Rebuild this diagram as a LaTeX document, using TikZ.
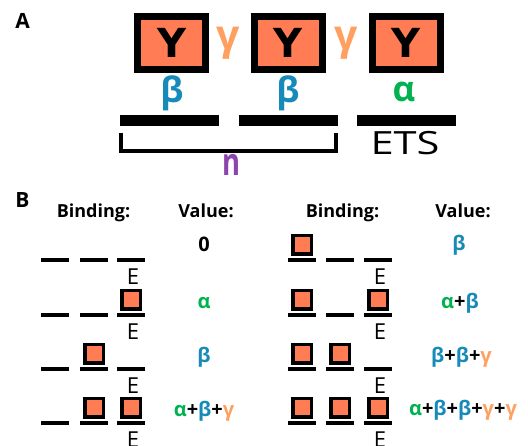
\documentclass[tikz,border=0pt]{standalone}
\usepackage{fontspec}
\setmainfont{Open Sans}
\newfontfamily\yfont{DejaVu Sans}
\usetikzlibrary{calc}

\definecolor{salmon}{RGB}{255,124,84}
\definecolor{gamcol}{RGB}{255,160,96}
\definecolor{betcol}{RGB}{22,138,184}
\definecolor{alfcol}{RGB}{0,178,80}
\definecolor{ncol}{RGB}{142,68,173}

\newcommand{\alf}{\textcolor{alfcol}{α}}
\newcommand{\bet}{\textcolor{betcol}{β}}
\newcommand{\gam}{\textcolor{gamcol}{γ}}

\tikzset{
  bigbox/.style={draw=black, line width=7pt, fill=salmon, minimum width=68pt,
    minimum height=53pt, inner sep=0pt, font=\yfont\bfseries\fontsize{40}{40}\selectfont},
  bigbar/.style={fill=black, minimum width=99pt, minimum height=11pt, inner sep=0pt},
  greekA/.style={inner sep=0pt, font=\bfseries\fontsize{35}{35}\selectfont},
  gapgam/.style={inner sep=0pt, text=gamcol, font=\bfseries\fontsize{41}{41}\selectfont},
  panel/.style={inner sep=0pt, font=\bfseries\fontsize{21}{21}\selectfont},
  header/.style={inner sep=0pt, anchor=base, font=\bfseries\fontsize{18}{18}\selectfont},
  value/.style={inner sep=0pt, anchor=base, font=\bfseries\fontsize{20}{20}\selectfont},
  slot/.style={fill=black, minimum width=28pt, minimum height=4pt, inner sep=0pt},
  smallbox/.style={draw=black, line width=3.5pt, fill=salmon, minimum size=18.5pt, inner sep=0pt},
  elabel/.style={inner sep=0pt, anchor=base, font=\fontsize{22}{22}\selectfont},
  bracket/.style={line width=4pt}
}

\begin{document}
\begin{tikzpicture}[x=1pt, y=-1pt]
\useasboundingbox (0,0) rectangle (528,445);
\clip (0,0) rectangle (528,445);

% ---------- A: the promoter with its three sites ----------
\node[panel] (labA) at (22.5,20.5) {A};

\node[bigbox] (site1) at (171.5,43) {Y};
\node[bigbox] (site2) at (288,43) {Y};
\node[bigbox] (site3) at (406,43) {Y};

\node[gapgam] (g1) at (228.5,43) {γ};
\node[gapgam] (g2) at (346,43) {γ};

\node[greekA, text=betcol] (b1) at (172,93) {β};
\node[greekA, text=betcol] (b2) at (288,93) {β};
\node[greekA, text=alfcol] (a3) at (404,92) {α};

\node[bigbar] (bar1) at (169,120.5) {};
\node[bigbar] (bar2) at (288,120.5) {};
\node[bigbar] (bar3) at (406.5,120.5) {};

\draw[bracket] ($(bar1.south west)+(2,7)$) -- ++(0,18) -| ($(bar2.south east)+(-2,7)$);
\node[inner sep=0pt, text=ncol, font=\bfseries\fontsize{38}{38}\selectfont] (n) at (231.5,164.5) {\scalebox{0.72}[1]{n}};
\node[inner sep=0pt, font=\fontsize{32}{32}\selectfont] (ets) at (405,143.5) {\scalebox{1.3}[1]{ETS}};

% ---------- B: occupancy states and their values ----------
\node[panel] (labB) at (22.5,199.5) {B};

\node[header] (hb1) at (93.5,217) {Binding:};
\node[header] (hv1) at (206,217) {Value:};
\node[header] (hb2) at (342.5,217) {Binding:};
\node[header] (hv2) at (463,217) {Value:};

% slots: left columns 55, 94, 131; right columns 302, 340, 378
\foreach \r/\y in {1/260, 2/315, 3/369, 4/423} {
  \node[slot] (L\r1) at (55,\y) {};
  \node[slot] (L\r2) at (94,\y) {};
  \node[slot] (L\r3) at (131,\y) {};
  \node[elabel] (LE\r) at (133,\y+24) {E};
  \node[slot] (R\r1) at (302,\y) {};
  \node[slot] (R\r2) at (340,\y) {};
  \node[slot] (R\r3) at (378,\y) {};
  \node[elabel] (RE\r) at (380,\y+24) {E};
}

% bound factors sitting on the slots
\node[smallbox] (kL23) at ($(L23)+(0,-15.5)$) {};
\node[smallbox] (kL32) at ($(L32)+(0,-15.5)$) {};
\node[smallbox] (kL42) at ($(L42)+(0,-15.5)$) {};
\node[smallbox] (kL43) at ($(L43)+(0,-15.5)$) {};

\node[smallbox] (kR11) at ($(R11)+(0,-15.5)$) {};
\node[smallbox] (kR21) at ($(R21)+(0,-15.5)$) {};
\node[smallbox] (kR23) at ($(R23)+(0,-15.5)$) {};
\node[smallbox] (kR31) at ($(R31)+(0,-15.5)$) {};
\node[smallbox] (kR32) at ($(R32)+(0,-15.5)$) {};
\node[smallbox] (kR41) at ($(R41)+(0,-15.5)$) {};
\node[smallbox] (kR42) at ($(R42)+(0,-15.5)$) {};
\node[smallbox] (kR43) at ($(R43)+(0,-15.5)$) {};

% values
\node[value] (vL1) at (204,251) {0};
\node[value] (vL2) at (204,308) {\alf};
\node[value] (vL3) at (204,362) {\bet};
\node[value] (vL4) at (204,416) {\alf+\bet+\gam};

\node[value] (vR1) at (459,250) {\bet};
\node[value] (vR2) at (460,308) {\alf+\bet};
\node[value] (vR3) at (461.5,362) {\bet+\bet+\gam};
\node[value] (vR4) at (463,415) {\alf+\bet+\bet+\gam+\gam};
\end{tikzpicture}
\end{document}
